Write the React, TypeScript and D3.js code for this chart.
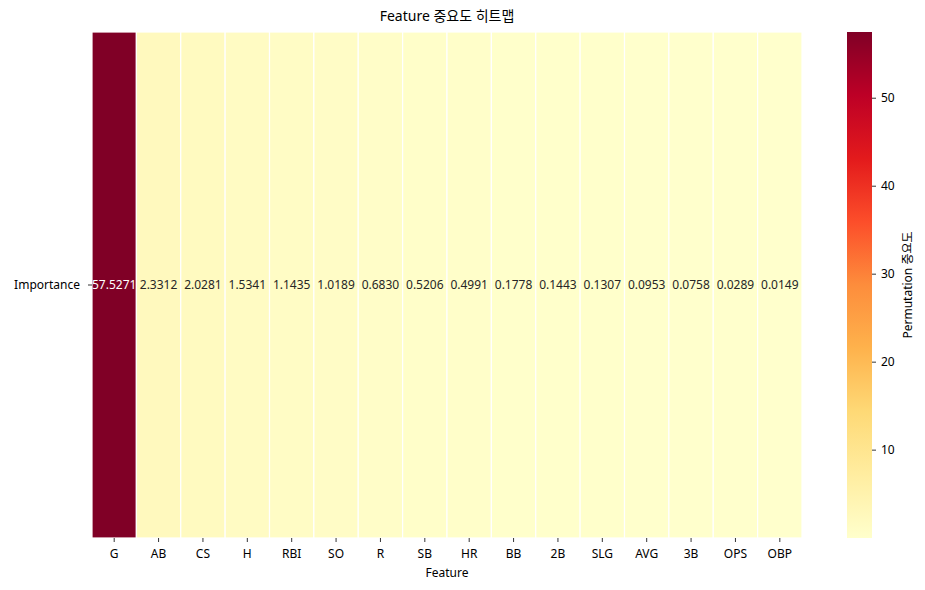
import React, {useEffect, useRef} from 'react';
import * as d3 from 'd3';

const features = ['G', 'AB', 'CS', 'H', 'RBI', 'SO', 'R', 'SB', 'HR', 'BB', '2B', 'SLG', 'AVG', '3B', 'OPS', 'OBP'];
const importance = [57.5271, 2.3312, 2.0281, 1.5341, 1.1435, 1.0189, 0.683, 0.5206, 0.4991, 0.1778, 0.1443, 0.1307, 0.0953, 0.0758, 0.0289, 0.0149];
const rowLabels = ['Importance'];
const cbarTicks = [10, 20, 30, 40, 50];
const ylOrRd = ['#ffffcc', '#ffeda0', '#fed976', '#feb24c', '#fd8d3c', '#fc4e2a', '#e31a1c', '#bd0026', '#800026'];

const W = 925;
const H = 590;
const FONT = '"Malgun Gothic", "Noto Sans", "Noto Sans CJK KR", sans-serif';

const App: React.FC = () => {
  const ref = useRef<SVGSVGElement | null>(null);

  useEffect(() => {
    if (!ref.current) return;
    const svg = d3.select(ref.current);
    svg.selectAll('*').remove();

    const left = 92, right = 802, top = 32, bottom = 538;
    const vmin = d3.min(importance)!;
    const vmax = d3.max(importance)!;
    const color = d3
      .scaleLinear<string>()
      .domain(ylOrRd.map((_, i) => vmin + (i / (ylOrRd.length - 1)) * (vmax - vmin)))
      .range(ylOrRd)
      .interpolate(d3.interpolateRgb);

    const x = d3.scaleBand().domain(features).range([left, right]);
    const y = d3.scaleBand().domain(rowLabels).range([top, bottom]);

    // title
    svg.append('text')
      .attr('x', (left + right) / 2).attr('y', 21)
      .attr('text-anchor', 'middle')
      .style('font', `14px ${FONT}`)
      .attr('fill', '#000')
      .text('Feature 중요도 히트맵');

    // cells
    const g = svg.append('g');
    g.selectAll('rect')
      .data(importance)
      .join('rect')
      .attr('x', (_, i) => x(features[i])!)
      .attr('y', y('Importance')!)
      .attr('width', x.bandwidth())
      .attr('height', y.bandwidth())
      .attr('fill', (d) => color(d))
      .attr('stroke', '#fff')
      .attr('stroke-width', 1.2);

    g.selectAll('text')
      .data(importance)
      .join('text')
      .attr('x', (_, i) => x(features[i])! + x.bandwidth() / 2)
      .attr('y', y('Importance')! + y.bandwidth() / 2)
      .attr('dy', '0.35em')
      .attr('text-anchor', 'middle')
      .style('font', `12px ${FONT}`)
      .attr('fill', (d) => (d3.hsl(color(d)).l < 0.5 ? '#fff' : '#262626'))
      .text((d) => d.toFixed(4));

    // x axis
    const xa = svg.append('g');
    features.forEach((f) => {
      const cx = x(f)! + x.bandwidth() / 2;
      xa.append('line').attr('x1', cx).attr('x2', cx).attr('y1', bottom).attr('y2', bottom + 4)
        .attr('stroke', '#000').attr('stroke-width', 0.8);
      xa.append('text').attr('x', cx).attr('y', bottom + 20)
        .attr('text-anchor', 'middle').style('font', `12px ${FONT}`).attr('fill', '#000').text(f);
    });
    svg.append('text')
      .attr('x', (left + right) / 2).attr('y', bottom + 39)
      .attr('text-anchor', 'middle').style('font', `12px ${FONT}`).attr('fill', '#000')
      .text('Feature');

    // y axis
    rowLabels.forEach((r) => {
      const cy = y(r)! + y.bandwidth() / 2;
      svg.append('line').attr('x1', left - 4).attr('x2', left).attr('y1', cy).attr('y2', cy)
        .attr('stroke', '#000').attr('stroke-width', 0.8);
      svg.append('text').attr('x', left - 12).attr('y', cy).attr('dy', '0.35em')
        .attr('text-anchor', 'end').style('font', `12px ${FONT}`).attr('fill', '#000').text(r);
    });

    // colorbar
    const cbx = 847, cbw = 25;
    const cy = d3.scaleLinear().domain([vmin, vmax]).range([bottom, top]);
    const defs = svg.append('defs');
    const grad = defs.append('linearGradient').attr('id', 'cbar')
      .attr('x1', 0).attr('y1', 1).attr('x2', 0).attr('y2', 0);
    ylOrRd.forEach((c, i) => {
      grad.append('stop').attr('offset', i / (ylOrRd.length - 1)).attr('stop-color', c);
    });
    svg.append('rect').attr('x', cbx).attr('y', top).attr('width', cbw).attr('height', bottom - top)
      .attr('fill', 'url(#cbar)');
    const cb = svg.append('g');
    cbarTicks.forEach((t) => {
      cb.append('line').attr('x1', cbx + cbw).attr('x2', cbx + cbw + 4).attr('y1', cy(t)).attr('y2', cy(t))
        .attr('stroke', '#000').attr('stroke-width', 0.8);
      cb.append('text').attr('x', cbx + cbw + 9).attr('y', cy(t)).attr('dy', '0.35em')
        .style('font', `12px ${FONT}`).attr('fill', '#000').text(t);
    });
    svg.append('text')
      .attr('transform', `translate(912,${(top + bottom) / 2}) rotate(-90)`)
      .attr('text-anchor', 'middle').style('font', `12px ${FONT}`).attr('fill', '#000')
      .text('Permutation 중요도');
  }, []);

  return (
    <svg ref={ref} width={W} height={H}
      style={{position: 'absolute', left: 0, top: 0, background: '#fff'}} />
  );
};

export default App;
